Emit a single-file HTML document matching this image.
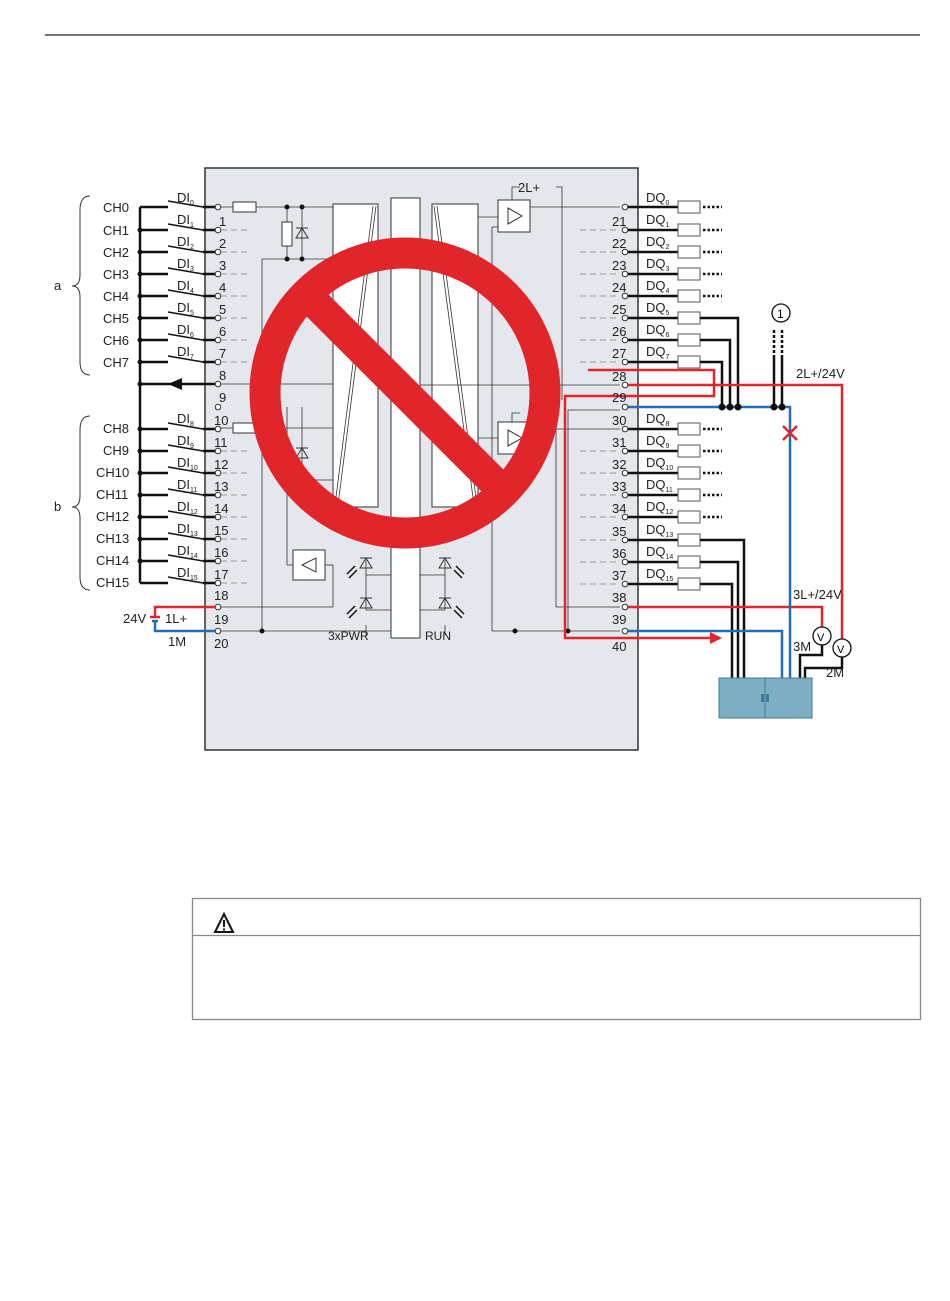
<!DOCTYPE html>
<html><head><meta charset="utf-8"><style>
html,body{margin:0;padding:0;background:#fff;}
svg{display:block;font-family:"Liberation Sans",Arial,sans-serif;}
</style></head><body>
<svg width="950" height="1301" viewBox="0 0 950 1301" xmlns="http://www.w3.org/2000/svg">
<line x1="45" y1="35" x2="920" y2="35" stroke="#222" stroke-width="1.2"/>
<!-- module -->
<rect x="205" y="168" width="433" height="582" fill="#e4e7ec" stroke="#333" stroke-width="1.5"/>
<rect x="333" y="204" width="45" height="303" fill="#fff" stroke="#333"/>
<rect x="391" y="198" width="29" height="440" fill="#fff" stroke="#333"/>
<rect x="432" y="204" width="46" height="303" fill="#fff" stroke="#333"/>
<g stroke="#333" stroke-width="0.8" fill="none">
<line x1="376" y1="206" x2="338" y2="505"/><line x1="373" y1="206" x2="335" y2="505"/>
<line x1="434" y1="206" x2="474" y2="505"/><line x1="437" y1="206" x2="477" y2="505"/>
<line x1="217" y1="207" x2="333" y2="207"/>
<line x1="262" y1="259" x2="333" y2="259"/>
<line x1="262" y1="259" x2="262" y2="631"/>
<line x1="287" y1="207" x2="287" y2="259"/><line x1="302" y1="207" x2="302" y2="259"/>
<line x1="217" y1="428" x2="333" y2="428"/>
<line x1="287" y1="407" x2="287" y2="480"/><line x1="302" y1="407" x2="302" y2="480"/>
<line x1="287" y1="480" x2="333" y2="480"/>
<line x1="287" y1="480" x2="287" y2="565"/><line x1="287" y1="565" x2="293" y2="565"/>
<line x1="217" y1="384" x2="333" y2="384"/>
<line x1="325" y1="565" x2="333" y2="565"/><line x1="333" y1="565" x2="333" y2="607"/><line x1="217" y1="607" x2="333" y2="607"/>
<line x1="217" y1="631" x2="391" y2="631"/>
<line x1="478" y1="217" x2="498" y2="217"/>
<line x1="530" y1="207" x2="620" y2="207"/>
<line x1="492" y1="227" x2="498" y2="227"/><line x1="492" y1="227" x2="492" y2="631"/><line x1="492" y1="631" x2="620" y2="631"/>
<polyline points="512,200 512,187 520,187"/><polyline points="556,187 562,187 562,400"/>
<line x1="556" y1="607" x2="620" y2="607"/><line x1="556" y1="420" x2="556" y2="607"/>
<line x1="568" y1="410" x2="568" y2="631"/><line x1="568" y1="410" x2="620" y2="410"/>
<line x1="530" y1="429" x2="620" y2="429"/>
<polyline points="512,422 512,413 520,413"/>
<line x1="478" y1="438" x2="498" y2="438"/>
<line x1="420" y1="385" x2="620" y2="385"/>
<line x1="366" y1="560" x2="366" y2="610"/><line x1="366" y1="610" x2="391" y2="610"/>
<line x1="445" y1="560" x2="445" y2="610"/><line x1="420" y1="610" x2="445" y2="610"/>
<line x1="366" y1="575" x2="391" y2="575"/><line x1="420" y1="575" x2="445" y2="575"/>
<polyline points="366,625 366,635" /><polyline points="445,625 445,635"/>
</g>
<rect x="233" y="202" width="23" height="10" fill="#fff" stroke="#333"/>
<rect x="233" y="423" width="23" height="10" fill="#fff" stroke="#333"/>
<rect x="282" y="222" width="10" height="24" fill="#fff" stroke="#333"/>
<path d="M296 238 L308 238 L302 228 Z M296 228 L308 228" fill="none" stroke="#333"/>
<path d="M296 458 L308 458 L302 448 Z M296 448 L308 448" fill="none" stroke="#333"/>
<g fill="#111"><circle cx="287" cy="207" r="2.5"/><circle cx="302" cy="207" r="2.5"/><circle cx="287" cy="259" r="2.5"/><circle cx="302" cy="259" r="2.5"/><circle cx="262" cy="631" r="2.5"/><circle cx="515" cy="631" r="2.5"/><circle cx="568" cy="631" r="2.5"/></g>
<rect x="498" y="200" width="32" height="32" fill="#fff" stroke="#333"/><path d="M508 208 L508 224 L522 216 Z" fill="none" stroke="#333"/>
<rect x="498" y="422" width="32" height="32" fill="#fff" stroke="#333"/><path d="M508 430 L508 446 L522 438 Z" fill="none" stroke="#333"/>
<rect x="293" y="550" width="32" height="30" fill="#fff" stroke="#333"/><path d="M316 558 L316 572 L302 565 Z" fill="none" stroke="#333"/>
<text x="518" y="192" font-size="13" fill="#222">2L+</text>
<g stroke="#333" fill="none"><path d="M360 568 L372 568 L366 558 Z M360 558 L372 558"/><path d="M439 568 L451 568 L445 558 Z M439 558 L451 558"/><path d="M360 608 L372 608 L366 598 Z M360 598 L372 598"/><path d="M439 608 L451 608 L445 598 Z M439 598 L451 598"/></g>
<g stroke="#111" stroke-width="1.5"><line x1="357" y1="570" x2="349" y2="578"/><line x1="355" y1="566" x2="347" y2="574"/><line x1="357" y1="610" x2="349" y2="618"/><line x1="355" y1="606" x2="347" y2="614"/><line x1="454" y1="570" x2="462" y2="578"/><line x1="456" y1="566" x2="464" y2="574"/><line x1="454" y1="610" x2="462" y2="618"/><line x1="456" y1="606" x2="464" y2="614"/></g>
<text x="328" y="640" font-size="12" fill="#222">3xPWR</text><text x="425" y="640" font-size="12" fill="#222">RUN</text>
<!-- prohibition -->
<circle cx="405" cy="393" r="140" fill="none" stroke="#e1262b" stroke-width="31"/>
<line x1="310" y1="298" x2="500" y2="488" stroke="#e1262b" stroke-width="31"/>
<!-- left side -->
<g stroke="#111" stroke-width="2.5" fill="none">
<line x1="140" y1="207" x2="140" y2="583"/>
</g>
<g font-size="13" fill="#222">
<text x="103" y="212">CH0</text><text x="103" y="235">CH1</text><text x="103" y="257">CH2</text><text x="103" y="279">CH3</text><text x="103" y="301">CH4</text><text x="103" y="323">CH5</text><text x="103" y="345">CH6</text><text x="103" y="367">CH7</text>
<text x="103" y="433">CH8</text><text x="103" y="455">CH9</text><text x="96" y="477">CH10</text><text x="96" y="499">CH11</text><text x="96" y="521">CH12</text><text x="96" y="543">CH13</text><text x="96" y="565">CH14</text><text x="96" y="587">CH15</text>
<text x="54" y="290">a</text><text x="54" y="511">b</text>
</g>
<path d="M90 196 Q80 196 80 210 L80 275 Q80 286 72 286 Q80 286 80 297 L80 362 Q80 375 90 375" fill="none" stroke="#333"/>
<path d="M90 416 Q80 416 80 430 L80 496 Q80 507 72 507 Q80 507 80 518 L80 577 Q80 590 90 590" fill="none" stroke="#333"/>
<g id="sw" stroke="#111" fill="none">
<!-- rows -->
<path stroke-width="2.5" d="M140 207H168M203 207H217M140 230H168M203 230H217M140 252H168M203 252H217M140 274H168M203 274H217M140 296H168M203 296H217M140 318H168M203 318H217M140 340H168M203 340H217M140 362H168M203 362H217M140 429H168M203 429H217M140 451H168M203 451H217M140 473H168M203 473H217M140 495H168M203 495H217M140 517H168M203 517H217M140 539H168M203 539H217M140 561H168M203 561H217M140 583H168M203 583H217M140 384H217"/>
<path stroke-width="1.6" d="M168 201L203 207M168 224L203 230M168 246L203 252M168 268L203 274M168 290L203 296M168 312L203 318M168 334L203 340M168 356L203 362M168 423L203 429M168 445L203 451M168 467L203 473M168 489L203 495M168 511L203 517M168 533L203 539M168 555L203 561M168 577L203 583"/>
</g>
<path d="M168 384 L182 378 L182 390 Z" fill="#111"/>
<g fill="#111"><circle cx="140" cy="230" r="2.5"/><circle cx="140" cy="252" r="2.5"/><circle cx="140" cy="274" r="2.5"/><circle cx="140" cy="296" r="2.5"/><circle cx="140" cy="318" r="2.5"/><circle cx="140" cy="340" r="2.5"/><circle cx="140" cy="362" r="2.5"/><circle cx="140" cy="384" r="2.5"/><circle cx="140" cy="429" r="2.5"/><circle cx="140" cy="451" r="2.5"/><circle cx="140" cy="473" r="2.5"/><circle cx="140" cy="495" r="2.5"/><circle cx="140" cy="517" r="2.5"/><circle cx="140" cy="539" r="2.5"/><circle cx="140" cy="561" r="2.5"/></g>
<path stroke="#999" stroke-dasharray="6,4" fill="none" d="M221 230H250M221 252H250M221 274H250M221 296H250M221 318H250M221 340H250M221 362H250M221 451H250M221 473H250M221 495H250M221 517H250M221 539H250M221 561H250M221 583H250"/>
<g fill="#fff" stroke="#333"><circle cx="218" cy="207" r="2.8"/><circle cx="218" cy="230" r="2.8"/><circle cx="218" cy="252" r="2.8"/><circle cx="218" cy="274" r="2.8"/><circle cx="218" cy="296" r="2.8"/><circle cx="218" cy="318" r="2.8"/><circle cx="218" cy="340" r="2.8"/><circle cx="218" cy="362" r="2.8"/><circle cx="218" cy="384" r="2.8"/><circle cx="218" cy="407" r="2.8"/><circle cx="218" cy="429" r="2.8"/><circle cx="218" cy="451" r="2.8"/><circle cx="218" cy="473" r="2.8"/><circle cx="218" cy="495" r="2.8"/><circle cx="218" cy="517" r="2.8"/><circle cx="218" cy="539" r="2.8"/><circle cx="218" cy="561" r="2.8"/><circle cx="218" cy="583" r="2.8"/><circle cx="218" cy="607" r="2.8"/><circle cx="218" cy="631" r="2.8"/></g>
<g font-size="13" fill="#222">
<text x="219" y="226">1</text><text x="219" y="248">2</text><text x="219" y="270">3</text><text x="219" y="292">4</text><text x="219" y="314">5</text><text x="219" y="336">6</text><text x="219" y="358">7</text><text x="219" y="380">8</text><text x="219" y="402">9</text>
<text x="214" y="425">10</text><text x="214" y="447">11</text><text x="214" y="469">12</text><text x="214" y="491">13</text><text x="214" y="513">14</text><text x="214" y="535">15</text><text x="214" y="557">16</text><text x="214" y="579">17</text><text x="214" y="600">18</text><text x="214" y="624">19</text><text x="214" y="648">20</text>
</g>
<g font-size="13" fill="#222">
<text x="177" y="202">DI<tspan font-size="7" dy="3">0</tspan></text><text x="177" y="224">DI<tspan font-size="7" dy="3">1</tspan></text><text x="177" y="246">DI<tspan font-size="7" dy="3">2</tspan></text><text x="177" y="268">DI<tspan font-size="7" dy="3">3</tspan></text><text x="177" y="290">DI<tspan font-size="7" dy="3">4</tspan></text><text x="177" y="312">DI<tspan font-size="7" dy="3">5</tspan></text><text x="177" y="334">DI<tspan font-size="7" dy="3">6</tspan></text><text x="177" y="356">DI<tspan font-size="7" dy="3">7</tspan></text>
<text x="177" y="423">DI<tspan font-size="7" dy="3">8</tspan></text><text x="177" y="445">DI<tspan font-size="7" dy="3">9</tspan></text><text x="177" y="467">DI<tspan font-size="7" dy="3">10</tspan></text><text x="177" y="489">DI<tspan font-size="7" dy="3">11</tspan></text><text x="177" y="511">DI<tspan font-size="7" dy="3">12</tspan></text><text x="177" y="533">DI<tspan font-size="7" dy="3">13</tspan></text><text x="177" y="555">DI<tspan font-size="7" dy="3">14</tspan></text><text x="177" y="577">DI<tspan font-size="7" dy="3">15</tspan></text>
</g>
<polyline points="215,607 155,607 155,617" fill="none" stroke="#e1262b" stroke-width="2.5"/>
<line x1="150" y1="617" x2="160" y2="617" stroke="#e1262b" stroke-width="2.5"/>
<line x1="152" y1="621" x2="158" y2="621" stroke="#1e6fb8" stroke-width="2.5"/>
<polyline points="155,621 155,631 215,631" fill="none" stroke="#1e6fb8" stroke-width="2.5"/>
<g font-size="13" fill="#222"><text x="123" y="623">24V</text><text x="165" y="623">1L+</text><text x="168" y="646">1M</text></g>
<!-- right side -->
<path stroke="#999" stroke-dasharray="6,4" fill="none" d="M580 230H620M580 252H620M580 274H620M580 296H620M580 318H620M580 340H620M580 362H620M580 451H620M580 473H620M580 495H620M580 517H620M580 540H620M580 562H620M580 584H620"/>
<path stroke="#111" stroke-width="2.5" fill="none" d="M628 207H678M628 230H678M628 252H678M628 274H678M628 296H678M628 318H678M628 340H678M628 362H678M628 429H678M628 451H678M628 473H678M628 495H678M628 517H678M628 540H678M628 562H678M628 584H678"/>
<g fill="#fff" stroke="#555"><rect x="678" y="201" width="22" height="12"/><rect x="678" y="224" width="22" height="12"/><rect x="678" y="246" width="22" height="12"/><rect x="678" y="268" width="22" height="12"/><rect x="678" y="290" width="22" height="12"/><rect x="678" y="312" width="22" height="12"/><rect x="678" y="334" width="22" height="12"/><rect x="678" y="356" width="22" height="12"/><rect x="678" y="423" width="22" height="12"/><rect x="678" y="445" width="22" height="12"/><rect x="678" y="467" width="22" height="12"/><rect x="678" y="489" width="22" height="12"/><rect x="678" y="511" width="22" height="12"/><rect x="678" y="534" width="22" height="12"/><rect x="678" y="556" width="22" height="12"/><rect x="678" y="578" width="22" height="12"/></g>
<path stroke="#111" stroke-width="2.5" stroke-dasharray="2.5,2" fill="none" d="M703 207H722M703 230H722M703 252H722M703 274H722M703 296H722M703 429H722M703 451H722M703 473H722M703 495H722M703 517H722"/>
<g stroke="#111" stroke-width="2.5" fill="none">
<polyline points="700,318 738,318 738,407"/><polyline points="700,340 730,340 730,407"/><polyline points="700,362 722,362 722,407"/>
<polyline points="700,540 744,540 744,678"/><polyline points="700,562 738,562 738,678"/><polyline points="700,584 732,584 732,678"/>
<line x1="774" y1="355" x2="774" y2="407"/><line x1="782" y1="355" x2="782" y2="407"/>
<polyline points="822,645 822,655 800,655 800,678"/><polyline points="842,657 842,668 805,668 805,678"/>
</g>
<path stroke="#111" stroke-width="2.5" stroke-dasharray="3,2" d="M774 330V355M782 330V355"/>
<circle cx="781" cy="313" r="9" fill="#fff" stroke="#111" stroke-width="1.3"/><text x="777" y="318" font-size="12">1</text>
<polyline points="628,385 842,385 842,639" fill="none" stroke="#e1262b" stroke-width="2.5"/>
<polyline points="628,607 822,607 822,627" fill="none" stroke="#e1262b" stroke-width="2.5"/>
<polyline points="588,370 714,370 714,396 565,396 565,638 712,638" fill="none" stroke="#e1262b" stroke-width="2.5"/>
<path d="M722 638 L710 632 L710 644 Z" fill="#e1262b"/>
<polyline points="628,407 790,407 790,678" fill="none" stroke="#1e6fb8" stroke-width="2.5"/>
<polyline points="628,631 782,631 782,678" fill="none" stroke="#1e6fb8" stroke-width="2.5"/>
<path d="M783 426 L797 440 M797 426 L783 440" stroke="#e1262b" stroke-width="2.5"/>
<g fill="#111"><circle cx="722" cy="407" r="3.5"/><circle cx="730" cy="407" r="3.5"/><circle cx="738" cy="407" r="3.5"/><circle cx="774" cy="407" r="3.5"/><circle cx="782" cy="407" r="3.5"/></g>
<circle cx="822" cy="636" r="9" fill="#fff" stroke="#111" stroke-width="1.3"/><text x="817" y="641" font-size="11">V</text>
<circle cx="842" cy="648" r="9" fill="#fff" stroke="#111" stroke-width="1.3"/><text x="837" y="653" font-size="11">V</text>
<rect x="719" y="678" width="93" height="40" fill="#7daec4" stroke="#3a7d98"/>
<line x1="765" y1="678" x2="765" y2="718" stroke="#3a7d98"/>
<rect x="761" y="694" width="3" height="8" fill="#3a7d98"/><rect x="766" y="694" width="3" height="8" fill="#3a7d98"/>
<g font-size="13" fill="#222"><text x="796" y="378">2L+/24V</text><text x="793" y="599">3L+/24V</text><text x="793" y="651">3M</text><text x="826" y="677">2M</text></g>
<g fill="#fff" stroke="#333"><circle cx="625" cy="207" r="2.8"/><circle cx="625" cy="230" r="2.8"/><circle cx="625" cy="252" r="2.8"/><circle cx="625" cy="274" r="2.8"/><circle cx="625" cy="296" r="2.8"/><circle cx="625" cy="318" r="2.8"/><circle cx="625" cy="340" r="2.8"/><circle cx="625" cy="362" r="2.8"/><circle cx="625" cy="385" r="2.8"/><circle cx="625" cy="407" r="2.8"/><circle cx="625" cy="429" r="2.8"/><circle cx="625" cy="451" r="2.8"/><circle cx="625" cy="473" r="2.8"/><circle cx="625" cy="495" r="2.8"/><circle cx="625" cy="517" r="2.8"/><circle cx="625" cy="540" r="2.8"/><circle cx="625" cy="562" r="2.8"/><circle cx="625" cy="584" r="2.8"/><circle cx="625" cy="607" r="2.8"/><circle cx="625" cy="631" r="2.8"/></g>
<g font-size="13" fill="#222">
<text x="612" y="226">21</text><text x="612" y="248">22</text><text x="612" y="270">23</text><text x="612" y="292">24</text><text x="612" y="314">25</text><text x="612" y="336">26</text><text x="612" y="358">27</text><text x="612" y="381">28</text><text x="612" y="402">29</text>
<text x="612" y="425">30</text><text x="612" y="447">31</text><text x="612" y="469">32</text><text x="612" y="491">33</text><text x="612" y="513">34</text><text x="612" y="536">35</text><text x="612" y="558">36</text><text x="612" y="580">37</text><text x="612" y="602">38</text><text x="612" y="624">39</text><text x="612" y="651">40</text>
</g>
<g font-size="13" fill="#222">
<text x="646" y="202">DQ<tspan font-size="7" dy="3">0</tspan></text><text x="646" y="224">DQ<tspan font-size="7" dy="3">1</tspan></text><text x="646" y="246">DQ<tspan font-size="7" dy="3">2</tspan></text><text x="646" y="268">DQ<tspan font-size="7" dy="3">3</tspan></text><text x="646" y="290">DQ<tspan font-size="7" dy="3">4</tspan></text><text x="646" y="312">DQ<tspan font-size="7" dy="3">5</tspan></text><text x="646" y="334">DQ<tspan font-size="7" dy="3">6</tspan></text><text x="646" y="356">DQ<tspan font-size="7" dy="3">7</tspan></text>
<text x="646" y="423">DQ<tspan font-size="7" dy="3">8</tspan></text><text x="646" y="445">DQ<tspan font-size="7" dy="3">9</tspan></text><text x="646" y="467">DQ<tspan font-size="7" dy="3">10</tspan></text><text x="646" y="489">DQ<tspan font-size="7" dy="3">11</tspan></text><text x="646" y="511">DQ<tspan font-size="7" dy="3">12</tspan></text><text x="646" y="534">DQ<tspan font-size="7" dy="3">13</tspan></text><text x="646" y="556">DQ<tspan font-size="7" dy="3">14</tspan></text><text x="646" y="578">DQ<tspan font-size="7" dy="3">15</tspan></text>
</g>
<!-- warning box -->
<rect x="192.5" y="898.5" width="728" height="121" fill="#fff" stroke="#888" stroke-width="1.3"/>
<line x1="193" y1="935.5" x2="920" y2="935.5" stroke="#888" stroke-width="1.3"/>
<path d="M215 932 L233 932 L224 914 Z" fill="none" stroke="#111" stroke-width="2"/>
<rect x="223" y="920" width="2" height="7" fill="#111"/><rect x="223" y="928.5" width="2" height="2" fill="#111"/>
</svg>
</body></html>
